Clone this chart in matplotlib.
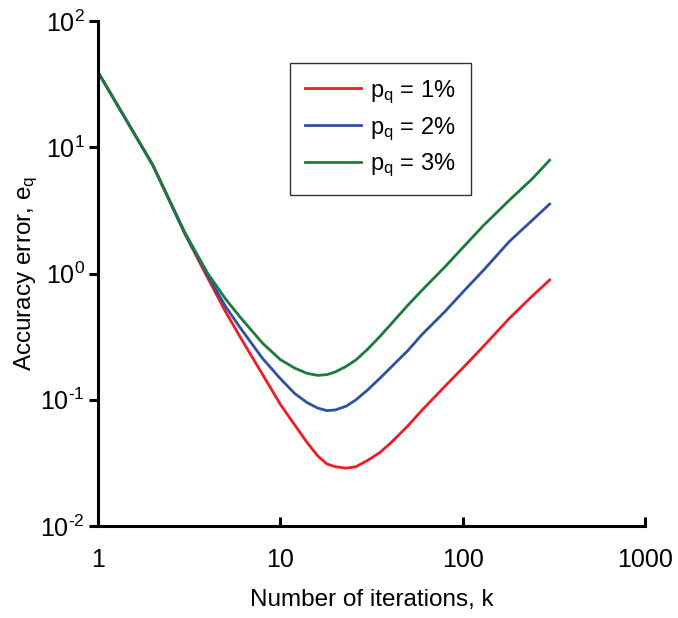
import matplotlib
matplotlib.use("Agg")
import matplotlib.pyplot as plt
from matplotlib.ticker import FixedLocator, FixedFormatter, NullLocator

plt.rcParams['font.family'] = ['Liberation Sans', 'DejaVu Sans']
plt.rcParams['mathtext.fontset'] = 'custom'
plt.rcParams['mathtext.rm'] = 'Liberation Sans'
plt.rcParams['mathtext.it'] = 'Liberation Sans'

# data
k = [1, 2, 3, 4, 5, 6, 7, 8, 10, 12, 14, 16, 18, 20, 23, 26, 30, 35, 40, 50,
     60, 80, 100, 130, 180, 240, 300]
e_p1 = [39.4, 7.2, 2.05, 0.92, 0.50, 0.317, 0.218, 0.158, 0.092, 0.063, 0.046,
        0.036, 0.031, 0.0295, 0.0287, 0.0295, 0.033, 0.038, 0.045, 0.062,
        0.083, 0.128, 0.178, 0.265, 0.44, 0.66, 0.889]
e_p2 = [39.4, 7.2, 2.07, 0.96, 0.55, 0.375, 0.276, 0.212, 0.147, 0.112, 0.095,
        0.086, 0.082, 0.083, 0.089, 0.100, 0.119, 0.147, 0.178, 0.245,
        0.33, 0.50, 0.71, 1.06, 1.79, 2.63, 3.55]
e_p3 = [39.4, 7.2, 2.1, 1.0, 0.63, 0.454, 0.35, 0.28, 0.208, 0.178, 0.162,
        0.156, 0.158, 0.166, 0.184, 0.207, 0.25, 0.315, 0.39, 0.56,
        0.74, 1.13, 1.6, 2.4, 3.8, 5.6, 7.9]
labels = [r'$\mathregular{p_q}$ = 1%', r'$\mathregular{p_q}$ = 2%', r'$\mathregular{p_q}$ = 3%']
colors = ['#EE1D24', '#3050A2', '#1A7B3C']

xticks = [1, 10, 100, 1000]
xticklabels = ['1', '10', '100', '1000']
yticks = [1e-2, 1e-1, 1e0, 1e1, 1e2]
yticklabels = [r'$\mathregular{10^{\text{-}2}}$', r'$\mathregular{10^{\text{-}1}}$', r'$\mathregular{10^{0}}$',
               r'$\mathregular{10^{1}}$', r'$\mathregular{10^{2}}$']

fig = plt.figure(figsize=(6.78, 6.18), dpi=100)
ax = fig.add_axes([98/678, 92/618, 547/678, 505/618])

for ys, lab, c in zip([e_p1, e_p2, e_p3], labels, colors):
    ax.plot(k, ys, color=c, lw=2.0, label=lab, solid_joinstyle='round')

ax.set_xscale('log')
ax.set_yscale('log')
ax.set_xlim(1, 1000)
ax.set_ylim(1e-2, 1e2)

ax.xaxis.set_major_locator(FixedLocator(xticks))
ax.xaxis.set_major_formatter(FixedFormatter(xticklabels))
ax.xaxis.set_minor_locator(NullLocator())
ax.yaxis.set_major_locator(FixedLocator(yticks))
ax.yaxis.set_major_formatter(FixedFormatter(yticklabels))
ax.yaxis.set_minor_locator(NullLocator())

for s in ['top', 'right']:
    ax.spines[s].set_visible(False)
for s in ['left', 'bottom']:
    ax.spines[s].set_linewidth(2.2)

ax.tick_params(axis='x', direction='in', length=6.5, width=2.2, labelsize=18, pad=16)
ax.tick_params(axis='y', direction='out', length=6.5, width=2.2, labelsize=18, pad=3)

ax.set_xlabel('Number of iterations, k', fontsize=17.5, labelpad=12)
ax.set_ylabel(r'Accuracy error, $\mathregular{e_q}$', fontsize=17.5, labelpad=0)

leg = ax.legend(loc='upper left', bbox_to_anchor=(0.351, 0.917), fontsize=17,
                frameon=True, fancybox=False, edgecolor='black', handlelength=2.35,
                borderpad=0.65, labelspacing=0.4, handletextpad=0.4, borderaxespad=0)
leg.get_frame().set_linewidth(1.0)

fig.savefig('out.png', dpi=100)
